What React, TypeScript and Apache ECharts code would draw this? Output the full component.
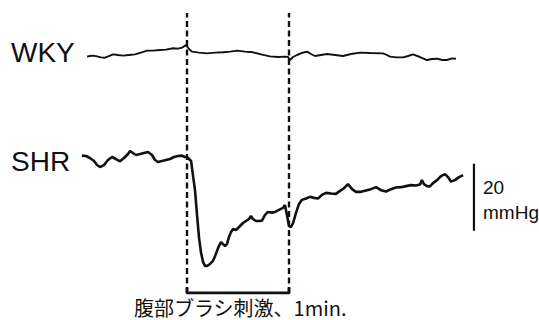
import React, { useEffect, useRef } from "react";
import * as echarts from "echarts";

// time in seconds relative to brush stimulation onset; values are change in mmHg
const wkyTime = [-58.8, -57.1, -55.3, -52.9, -50.6, -48.2, -45.9, -43.5, -40.6, -37.6, -34.1, -30.6, -27.1, -23.5, -20.0, -15.9, -12.4, -8.2, -5.3, -2.9, -0.6, 1.2, 2.9, 7.1, 11.8, 16.5, 21.2, 25.3, 29.4, 34.1, 38.8, 44.1, 48.8, 53.5, 57.6, 59.4, 60.6, 62.4, 64.7, 67.6, 70.6, 72.9, 75.3, 78.8, 82.4, 87.1, 91.8, 96.5, 101.8, 107.6, 115.3, 117.6, 119.4, 123.5, 127.1, 130.0, 132.9, 137.1, 141.2, 144.1, 147.1, 150.0, 152.9, 155.9, 158.2];
const wkyValue = [-0.5, -0.3, -0.2, -0.4, -0.7, -0.8, -0.3, 0.2, 0, -0.2, 0, 0.2, 0.7, 1.3, 1.3, 1.5, 1.6, 2.0, 1.9, 2.2, 3.0, 1.8, 1.0, 0.7, 0.5, 0.7, 0.8, 1.0, 1.3, 1.0, 0.8, 0.1, -0.4, -0.6, -0.5, -0.6, -1.5, -0.6, 0, 0.6, 1.0, 0.3, -0.3, 0, 0.3, 0, -0.3, 0.3, 0.7, 0.6, 0.5, 0, -0.5, -0.7, -0.7, -0.3, 0.2, -0.6, -1.5, -1.2, -1.1, -1.5, -1.5, -1.0, -1.1];

const shrTime = [-61.8, -59.4, -57.1, -54.7, -52.9, -51.2, -48.8, -46.5, -44.1, -41.8, -39.4, -37.1, -34.7, -33.5, -31.8, -30.0, -27.6, -25.3, -22.9, -20.6, -18.8, -17.1, -14.7, -12.4, -10.0, -7.6, -5.3, -2.9, -1.2, 0, 1.2, 2.4, 3.5, 4.7, 5.9, 7.1, 8.2, 9.4, 10.6, 11.8, 12.9, 14.1, 15.3, 16.5, 17.6, 18.8, 20.0, 21.2, 22.4, 23.5, 24.7, 25.9, 27.1, 28.8, 30.0, 31.8, 32.9, 34.7, 36.5, 37.6, 38.8, 40.6, 42.4, 44.1, 45.9, 47.6, 50.0, 51.8, 54.1, 56.5, 57.6, 58.8, 60.0, 61.2, 62.4, 64.1, 65.9, 67.6, 70.0, 72.4, 74.7, 77.1, 79.4, 81.8, 84.7, 87.6, 90.0, 92.4, 94.7, 97.1, 99.4, 102.4, 105.3, 108.2, 111.2, 114.1, 117.1, 120.0, 122.9, 125.9, 128.8, 131.8, 134.7, 137.1, 138.2, 139.4, 141.2, 142.9, 144.7, 147.1, 149.4, 151.8, 153.5, 155.3, 157.6, 160.0, 162.4];
const shrValue = [0.4, 0.3, -0.3, -1.2, -2.4, -3.0, -2.4, -0.9, 0, -0.6, -1.3, -0.3, 0.9, 1.8, 1.2, 0.6, 0.9, 1.2, 1.5, 0.6, -0.9, -1.5, -1.2, -0.9, -0.6, 0, 0.3, 0.4, 0, 0, -0.6, -1.2, -5.4, -9.9, -17.3, -24.2, -28.4, -31.3, -32.5, -32.5, -32.2, -31.6, -31.0, -29.6, -28.1, -26.6, -25.4, -26.0, -26.6, -26.0, -23.9, -22.4, -21.5, -21.8, -21.2, -20.3, -19.7, -19.1, -18.5, -17.6, -18.5, -19.1, -19.1, -19.0, -17.3, -16.4, -16.6, -16.4, -15.8, -15.2, -14.3, -17.3, -20.6, -20.9, -19.7, -16.7, -14.0, -12.8, -12.4, -11.9, -12.2, -12.4, -11.3, -10.7, -10.9, -11.0, -10.1, -9.3, -8.1, -9.6, -10.4, -10.4, -10.0, -9.6, -9.0, -9.9, -10.3, -9.6, -9.1, -9.0, -8.7, -8.4, -8.5, -8.2, -6.9, -8.1, -8.7, -8.8, -7.8, -6.9, -5.7, -5.1, -6.0, -7.3, -6.9, -6.0, -5.4];

const stimulusStart = 0; // s
const stimulusEnd = 60; // s (1 min)
const scaleBarTime = 168.8; // s
const scaleBarTop = -2; // mmHg
const scaleBarBottom = -22; // mmHg (20 mmHg bar)

const labelWKY = "WKY";
const labelSHR = "SHR";
const scaleLabel = "20";
const scaleUnit = "mmHg";
const caption = "腹部ブラシ刺激、1min.";

const X_MIN = -70;
const X_MAX = 170;

export default function App() {
  const ref = useRef<HTMLDivElement>(null);
  useEffect(() => {
    if (!ref.current) return;
    const chart = echarts.init(ref.current, undefined, { renderer: "svg" });
    const ink = "#111111";
    const xAxisBase = { type: "value", min: X_MIN, max: X_MAX, show: false };
    const yHidden = { type: "value", show: false };
    chart.setOption({
      animation: false,
      backgroundColor: "#ffffff",
      grid: [
        { left: 68, right: 63, top: 21.5, height: 67 },
        { left: 68, right: 63, top: 123.5, height: 167.5 },
        { left: 68, right: 63, top: 13, height: 280 },
      ],
      xAxis: [
        { ...xAxisBase, gridIndex: 0 },
        { ...xAxisBase, gridIndex: 1 },
        { ...xAxisBase, gridIndex: 2 },
      ],
      yAxis: [
        { ...yHidden, gridIndex: 0, min: -10, max: 10 },
        { ...yHidden, gridIndex: 1, min: -40, max: 10 },
        { ...yHidden, gridIndex: 2, min: 0, max: 1 },
      ],
      series: [
        {
          type: "line",
          xAxisIndex: 0,
          yAxisIndex: 0,
          data: wkyTime.map((t, i) => [t, wkyValue[i]]),
          showSymbol: false,
          lineStyle: { color: ink, width: 1.9 },
          silent: true,
        },
        {
          type: "line",
          xAxisIndex: 1,
          yAxisIndex: 1,
          data: shrTime.map((t, i) => [t, shrValue[i]]),
          showSymbol: false,
          lineStyle: { color: ink, width: 2.6 },
          silent: true,
        },
        {
          type: "line",
          xAxisIndex: 1,
          yAxisIndex: 1,
          data: [
            [scaleBarTime, scaleBarTop],
            [scaleBarTime, scaleBarBottom],
          ],
          showSymbol: false,
          lineStyle: { color: ink, width: 2.2 },
          silent: true,
        },
        {
          type: "line",
          xAxisIndex: 2,
          yAxisIndex: 2,
          data: [
            [stimulusStart, 0],
            [stimulusStart, 1],
          ],
          showSymbol: false,
          lineStyle: { color: ink, width: 2.4, type: [6, 3.5] },
          silent: true,
        },
        {
          type: "line",
          xAxisIndex: 2,
          yAxisIndex: 2,
          data: [
            [stimulusEnd, 0],
            [stimulusEnd, 1],
          ],
          showSymbol: false,
          lineStyle: { color: ink, width: 2.4, type: [6, 3.5] },
          silent: true,
        },
        {
          type: "line",
          xAxisIndex: 2,
          yAxisIndex: 2,
          data: [
            [stimulusStart, 0.02],
            [stimulusStart, 0],
            [stimulusEnd, 0],
            [stimulusEnd, 0.02],
          ],
          showSymbol: false,
          lineStyle: { color: ink, width: 2.8 },
          silent: true,
        },
      ],
      graphic: [
        {
          type: "text",
          left: 11,
          top: 38,
          style: { text: labelWKY, font: '28px "Liberation Sans", Arial, sans-serif', fill: ink },
        },
        {
          type: "text",
          left: 11,
          top: 147,
          style: { text: labelSHR, font: '28px "Liberation Sans", Arial, sans-serif', fill: ink },
        },
        {
          type: "text",
          left: 483,
          top: 178,
          style: { text: scaleLabel, font: '19px "Liberation Sans", Arial, sans-serif', fill: ink },
        },
        {
          type: "text",
          left: 483,
          top: 203,
          style: { text: scaleUnit, font: '19px "Liberation Sans", Arial, sans-serif', fill: ink },
        },
        {
          type: "text",
          left: 134,
          top: 297,
          style: { text: caption, font: '20px "Noto Sans CJK JP", sans-serif', fill: ink },
        },
      ],
    });
    return () => chart.dispose();
  }, []);
  return (
    <div
      ref={ref}
      style={{ position: "fixed", left: 0, top: 0, width: 539, height: 320 }}
    />
  );
}
